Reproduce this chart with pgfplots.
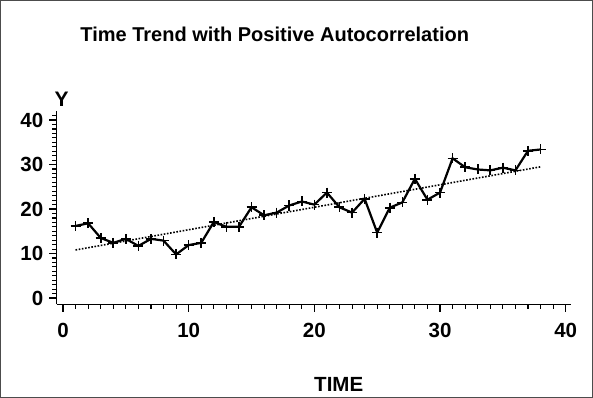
\documentclass[border=0pt]{standalone}
\usepackage{fontspec}
\setmainfont{Liberation Sans}
\usepackage{pgfplots}
\pgfplotsset{compat=1.18}
\begin{document}
\begin{tikzpicture}
\useasboundingbox (-63pt,-100pt) rectangle (530pt,298pt);
\begin{axis}[
  at={(0pt,0pt)}, anchor=origin,
  scale only axis, width=514pt, height=193pt,
  xmin=-0.5, xmax=40.4, ymin=-1.4, ymax=42,
  axis x line*=bottom, axis y line*=left,
  axis line style={-, line width=1.3pt},
  xtick={0,10,20,30,40}, ytick={0,10,20,30,40},
  major tick length=0pt,
  /pgf/number format/assume math mode=true,
  ticklabel style={font=\bfseries\fontsize{20.5}{20}\selectfont},
  xticklabel style={yshift=-15pt},
  yticklabel style={xshift=-10pt},
  clip=false,
]
\pgfplotsinvokeforeach{0,1,...,40}{
  \draw[black, line width=1.1pt] (axis cs:#1,-1.4) -- ([yshift=-5pt]axis cs:#1,-1.4);
}
\pgfplotsinvokeforeach{0,10,20,30,40}{
  \draw[black, line width=1.3pt] (axis cs:#1,-1.4) -- ([yshift=-8pt]axis cs:#1,-1.4);
}
\pgfplotsinvokeforeach{0,1,...,41}{
  \draw[black, line width=1.1pt] (axis cs:-0.5,#1) -- ([xshift=-5pt]axis cs:-0.5,#1);
}
\pgfplotsinvokeforeach{0,10,20,30,40}{
  \draw[black, line width=1.3pt] (axis cs:-0.5,#1) -- ([xshift=-8pt]axis cs:-0.5,#1);
}
\addplot[black, line width=1.6pt, dash pattern=on 1.6pt off 1.6pt] coordinates {(1,10.8) (38,29.5)};
\addplot[black, line width=2.2pt, mark=+, mark size=5pt, mark options={line width=1.6pt, solid}] coordinates {
(1,16.2) (2,16.8) (3,13.5) (4,12.4) (5,13.3) (6,11.7) (7,13.3) (8,12.9) (9,9.8) (10,11.9)
(11,12.4) (12,17.1) (13,16.0) (14,16.0) (15,20.4) (16,18.6) (17,19.2) (18,20.8) (19,21.7) (20,21.0)
(21,23.7) (22,20.4) (23,19.2) (24,22.3) (25,14.7) (26,20.3) (27,21.5) (28,26.8) (29,22.1) (30,23.7)
(31,31.4) (32,29.4) (33,28.9) (34,28.7) (35,29.3) (36,28.7) (37,33.1) (38,33.4)};
\node[font=\bfseries\fontsize{20}{20}\selectfont, anchor=center] at ([xshift=-39pt,yshift=77pt]rel axis cs:0.5,1) {Time Trend with Positive Autocorrelation};
\node[font=\bfseries\fontsize{21}{20}\selectfont, anchor=center] at ([xshift=5pt,yshift=12pt]rel axis cs:0,1) {Y};
\node[font=\bfseries\fontsize{20.5}{20}\selectfont, anchor=center] at ([xshift=25pt,yshift=-80pt]rel axis cs:0.5,0) {TIME};
\end{axis}
\draw[black!70, line width=1pt] (-62.5pt,-99.5pt) rectangle (529.5pt,297.5pt);
\end{tikzpicture}
\end{document}
